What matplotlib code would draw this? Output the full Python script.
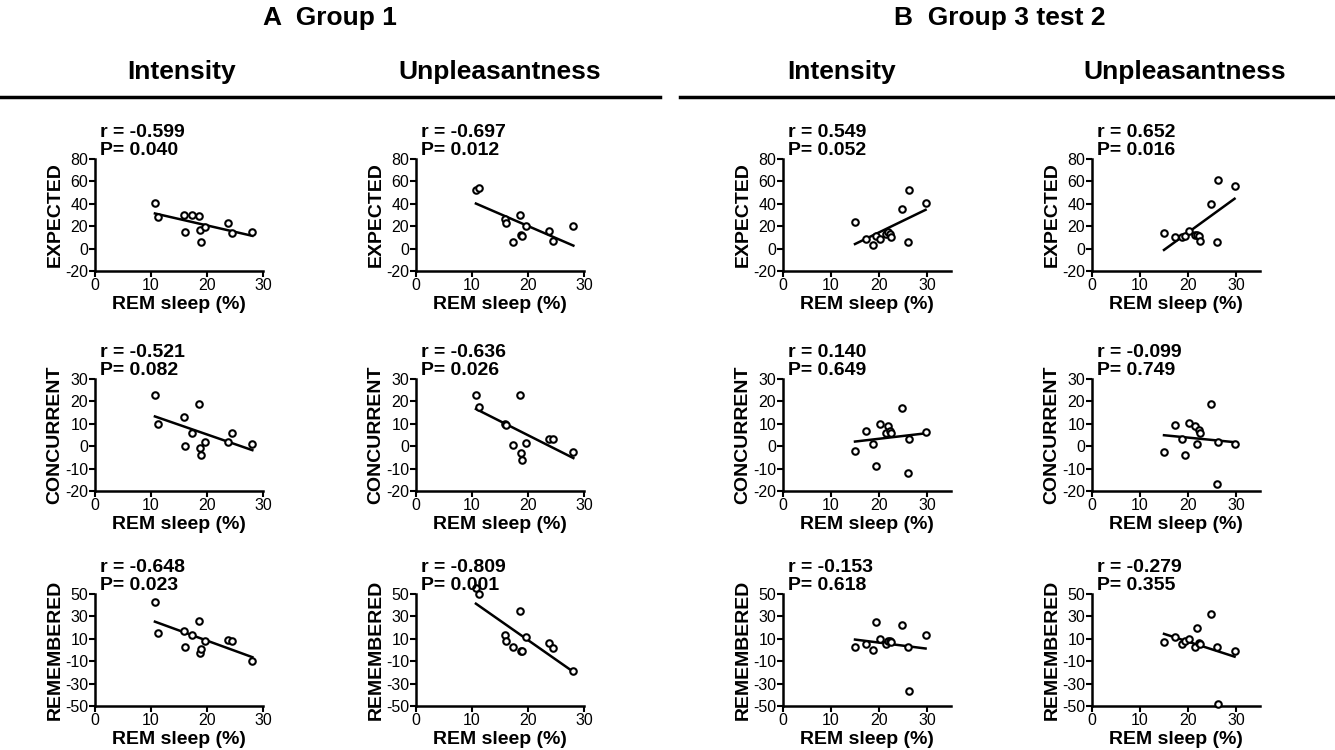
import matplotlib
matplotlib.use("Agg")
import matplotlib.pyplot as plt
import numpy as np

plt.rcParams['font.family'] = ['Liberation Sans', 'DejaVu Sans']
plt.rcParams['axes.unicode_minus'] = False

# REM sleep (%) for each subject
g1_rem = [10.7, 11.2, 15.9, 16.1, 17.4, 18.6, 18.8, 19.0, 19.7, 23.8, 24.4, 28.1]
g3_rem = [15.0, 17.3, 18.8, 19.4, 20.3, 21.5, 21.8, 22.2, 22.5, 24.8, 26.0, 26.2, 29.7]

# Group 1 ratings
g1_int_expected = [41, 28, 30, 15, 30, 29, 17, 6, 19, 23, 14, 15]
g1_unp_expected = [52, 54, 26, 23, 6, 30, 12, 11, 20, 16, 7, 20]
g1_int_concurrent = [23, 10, 13, 0, 6, 19, -1, -4, 2, 2, 6, 1]
g1_unp_concurrent = [23, 17.5, 10, 9.5, 0.6, 23, -3, -6, 1.3, 3, 3, -2.5]
g1_int_remembered = [43, 15, 17, 3, 13, 26, -3, 1, 8, 9, 8, -10]
g1_unp_remembered = [55, 50, 13, 8, 3, 35, -1, -1, 12, 6, 2, -19]

# Group 3 test 2 ratings
g3_int_expected = [24, 9, 3, 11, 9, 13, 15, 13, 10, 35, 6, 52, 41]
g3_unp_expected = [14, 10, 10, 11, 16, 12, 12, 11, 7, 40, 6, 61, 56]
g3_int_concurrent = [-2, 7, 1, -9, 10, 6, 9, 7, 6, 17, -12, 3, 6.5]
g3_unp_concurrent = [-2.6, 9.5, 3, -4, 10.4, 9, 1, 7.3, 6, 19, -17, 2, 1]
g3_int_remembered = [3, 5, 0, 25, 10, 5, 8, 8, 7, 22, 3, -37, 13]
g3_unp_remembered = [7, 12, 5, 8, 10, 3, 20, 6, 5, 32, 3, -48, -1]

stats = {
    (0, 0): ("-0.599", "0.040"), (0, 1): ("-0.697", "0.012"),
    (0, 2): ("0.549", "0.052"), (0, 3): ("0.652", "0.016"),
    (1, 0): ("-0.521", "0.082"), (1, 1): ("-0.636", "0.026"),
    (1, 2): ("0.140", "0.649"), (1, 3): ("-0.099", "0.749"),
    (2, 0): ("-0.648", "0.023"), (2, 1): ("-0.809", "0.001"),
    (2, 2): ("-0.153", "0.618"), (2, 3): ("-0.279", "0.355"),
}

rows = ["EXPECTED", "CONCURRENT", "REMEMBERED"]
data = [
    [g1_int_expected, g1_unp_expected, g3_int_expected, g3_unp_expected],
    [g1_int_concurrent, g1_unp_concurrent, g3_int_concurrent, g3_unp_concurrent],
    [g1_int_remembered, g1_unp_remembered, g3_int_remembered, g3_unp_remembered],
]
ylims = [(-20, 80), (-20, 30), (-50, 50)]
yticks = [np.arange(-20, 81, 20), np.arange(-20, 31, 10), np.arange(-50, 51, 20)]

W, H = 1335, 750
fig = plt.figure(figsize=(W / 100, H / 100), dpi=100)

col_left = [95, 416, 783, 1092]
row_top = [159, 379, 594]
ax_w, ax_h = 168, 112

for r in range(3):
    for c in range(4):
        x0 = col_left[c]
        y0 = row_top[r]
        ax = fig.add_axes([x0 / W, 1 - (y0 + ax_h) / H, ax_w / W, ax_h / H])
        xs = np.array(g1_rem if c < 2 else g3_rem)
        ys = np.array(data[r][c])
        k, b = np.polyfit(xs, ys, 1)
        xl = np.array([xs.min(), xs.max()])
        ax.plot(xl, k * xl + b, color='black', lw=1.8, zorder=2)
        ax.scatter(xs, ys, s=22, facecolors='white', edgecolors='black',
                   linewidths=1.5, zorder=3, clip_on=False)
        ax.set_xlim(0, 30 if c < 2 else 35)
        ax.set_xticks([0, 10, 20, 30])
        ax.set_ylim(*ylims[r])
        ax.set_yticks(yticks[r])
        for s in ['top', 'right']:
            ax.spines[s].set_visible(False)
        for s in ['left', 'bottom']:
            ax.spines[s].set_linewidth(1.8)
        ax.tick_params(width=1.5, length=4, labelsize=11.5, pad=1)
        ax.set_xlabel("REM sleep (%)", fontsize=14, fontweight='bold', labelpad=2)
        ax.set_ylabel(rows[r], fontsize=14, fontweight='bold', labelpad=1)
        rv, pv = stats[(r, c)]
        ax.text(0.03, 1.0, f"r = {rv}\nP= {pv}", transform=ax.transAxes,
                va='bottom', ha='left', fontsize=14, fontweight='bold',
                linespacing=1.05)

# headers
fig.text(330 / W, 1 - 18 / H, "A  Group 1", ha='center', va='center',
         fontsize=19, fontweight='bold')
fig.text(1000 / W, 1 - 18 / H, "B  Group 3 test 2", ha='center', va='center',
         fontsize=19, fontweight='bold')
for cx, name in zip([182, 500, 842, 1185],
                    ["Intensity", "Unpleasantness", "Intensity", "Unpleasantness"]):
    fig.text(cx / W, 1 - 72 / H, name, ha='center', va='center',
             fontsize=19, fontweight='bold')
fig.add_artist(plt.Line2D([0, 660 / W], [1 - 97 / H] * 2, color='black', lw=2.5))
fig.add_artist(plt.Line2D([680 / W, 1], [1 - 97 / H] * 2, color='black', lw=2.5))

fig.savefig("out.png", dpi=100)
